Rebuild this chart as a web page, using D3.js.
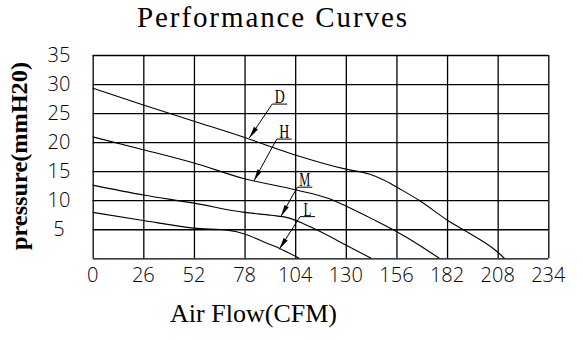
<!DOCTYPE html>
<html><head><meta charset="utf-8">
<script src="https://cdn.jsdelivr.net/npm/d3@7"></script>
<style>
html,body{margin:0;padding:0;background:#fff;}
svg{display:block;}
</style></head>
<body>
<svg id="chart" width="583" height="341"></svg>
<script>
// ---- data ----
const xTicks = [0, 26, 52, 78, 104, 130, 156, 182, 208, 234];
const yTicks = [0, 5, 10, 15, 20, 25, 30, 35];
const yTickLabels = ["", "5", "10", "15", "20", "25", "30", "35"];

const curveNames = ["D", "H", "M", "L"];
const dFlow = [0, 26, 52, 78, 104, 130, 142, 150, 158, 168, 182, 196, 206, 211.5];
const dPres = [29.3, 26.4, 23.6, 20.8, 17.8, 15.35, 14.5, 13.4, 11.9, 9.9, 6.6, 3.8, 1.6, 0];
const hFlow = [0, 26, 52, 78, 104, 122, 130, 144, 156, 168, 178];
const hPres = [20.9, 18.7, 16.4, 13.7, 11.8, 10.2, 9.0, 6.7, 4.6, 2.2, 0];
const mFlow = [0, 26, 52, 78, 92, 100, 108, 115, 130, 143];
const mPres = [12.6, 10.9, 9.5, 7.9, 7.4, 7.0, 6.0, 4.9, 2.3, 0];
const lFlow = [0, 26, 52, 70, 78, 88, 96, 106];
const lPres = [7.9, 6.5, 5.2, 4.8, 4.2, 2.8, 1.7, 0];

// annotation: arrow tip on curve, label anchor (data units)
const tipFlow = [80.4, 82.8, 96.6, 95.8];
const tipPres = [20.7, 13.33, 7.17, 1.55];
const labFlow = [92.2, 94.5, 105.1, 106.5];
const labPres = [26.55, 20.52, 12.24, 7.17];

const title = "Performance Curves";
const xTitle = "Air Flow(CFM)";
const yTitle = "pressure(mmH20)";

// ---- drawing ----
const svg = d3.select("#chart");
const x = d3.scaleLinear().domain([0, 234]).range([92.7, 548.3]);
const y = d3.scaleLinear().domain([0, 35]).range([258.3, 55]);

const gridW = 1.3;
const gx = svg.append("g").attr("transform", `translate(0,${y(0)})`)
  .call(d3.axisBottom(x).tickValues(xTicks).tickSize(-(y(0) - y(35))).tickFormat(""));
gx.select(".domain").remove();
gx.selectAll(".tick line").attr("stroke", "#000").attr("stroke-width", gridW);

const gy = svg.append("g").attr("transform", `translate(${x(0)},0)`)
  .call(d3.axisLeft(y).tickValues(yTicks).tickSize(-(x(234) - x(0))).tickFormat(""));
gy.select(".domain").remove();
gy.selectAll(".tick line").attr("stroke", "#000").attr("stroke-width", gridW);

// tick labels
const tickFont = "'Open Sans', 'Liberation Sans', sans-serif";
svg.append("g").selectAll("text").data(xTicks).join("text")
  .attr("x", d => x(d)).attr("y", 281.5)
  .attr("text-anchor", "middle")
  .attr("font-family", tickFont).attr("font-weight", 300).attr("font-size", 20)
  .attr("fill", "#000").text(d => d);

svg.append("g").selectAll("text").data(yTicks).join("text")
  .attr("x", 59).attr("y", d => y(d) + 7.2)
  .attr("text-anchor", "middle")
  .attr("font-family", tickFont).attr("font-weight", 300).attr("font-size", 20)
  .attr("fill", "#000").text((d, i) => yTickLabels[i]);

// curves
const series = [
  { flow: dFlow, pres: dPres },
  { flow: hFlow, pres: hPres },
  { flow: mFlow, pres: mPres },
  { flow: lFlow, pres: lPres }
];
const line = d3.line().x(d => x(d[0])).y(d => y(d[1])).curve(d3.curveMonotoneX);
svg.append("g").selectAll("path").data(series).join("path")
  .attr("d", s => line(s.flow.map((f, i) => [f, s.pres[i]])))
  .attr("fill", "none").attr("stroke", "#000").attr("stroke-width", 1.1);

// annotations
const ann = svg.append("g");
const letterW = { D: 10, H: 10, M: 11, L: 8 };
curveNames.forEach((name, i) => {
  const tx = x(tipFlow[i]), ty = y(tipPres[i]);
  const lx = x(labFlow[i]), ly = y(labPres[i]);
  ann.append("line").attr("x1", lx).attr("y1", ly).attr("x2", tx).attr("y2", ty)
    .attr("stroke", "#000").attr("stroke-width", 1);
  ann.append("line").attr("x1", lx).attr("y1", ly).attr("x2", lx + 15).attr("y2", ly)
    .attr("stroke", "#000").attr("stroke-width", 1);
  const dx = lx - tx, dy = ly - ty, len = Math.hypot(dx, dy);
  const ux = dx / len, uy = dy / len, L = 12, W = 2.4;
  const bx = tx + ux * L, by = ty + uy * L;
  ann.append("path")
    .attr("d", `M${tx},${ty}L${bx - uy * W},${by + ux * W}L${bx + uy * W},${by - ux * W}Z`)
    .attr("fill", "#000");
  ann.append("text").attr("x", lx + 7.5).attr("y", ly - 1)
    .attr("text-anchor", "middle")
    .attr("font-family", "'Liberation Serif', serif").attr("font-size", 18)
    .attr("textLength", letterW[name]).attr("lengthAdjust", "spacingAndGlyphs")
    .attr("fill", "#000").text(name);
});

// titles
svg.append("text").attr("x", 137).attr("y", 26.7)
  .attr("font-family", "'Liberation Serif', serif").attr("font-size", 29)
  .attr("textLength", 270).attr("lengthAdjust", "spacing")
  .attr("fill", "#000").text(title);

svg.append("text").attr("x", 170).attr("y", 321.7)
  .attr("font-family", "'Liberation Serif', serif").attr("font-size", 26)
  .attr("textLength", 167).attr("lengthAdjust", "spacing")
  .attr("fill", "#000").text(xTitle);

svg.append("text").attr("transform", "translate(27,250) rotate(-90)")
  .attr("font-family", "'Liberation Serif', serif").attr("font-size", 23).attr("font-weight", "bold")
  .attr("textLength", 188).attr("lengthAdjust", "spacingAndGlyphs")
  .attr("fill", "#000").text(yTitle);
</script>
</body></html>
